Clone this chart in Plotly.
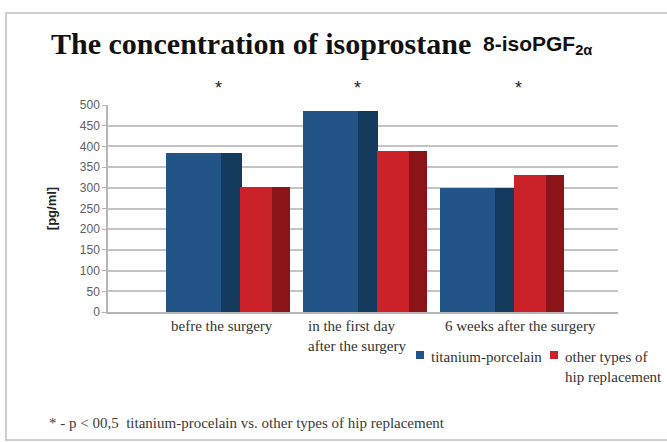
import plotly.graph_objects as go

categories = ["befre the surgery", "in the first day<br>after the surgery", "6 weeks after the surgery"]
titanium = [385, 485, 300]
other = [302, 388, 332]
series_names = ["titanium-porcelain", "other types of<br>hip replacement"]
y_ticks = [0, 50, 100, 150, 200, 250, 300, 350, 400, 450, 500]
star_offsets = [-10, -7, 17]

W, H = 667, 442
L, R, T, B = 108, 618, 105, 312


def px(xp):
    return (xp - L) / (R - L)


def py(yp):
    return (B - yp) / (B - T)


n = len(categories)
xs = list(range(n))
BLUE, BLUE_D = "#235488", "#143a5e"
RED, RED_D = "#cb2129", "#8b1418"

fig = go.Figure()
# blue face + side (side overlaid on face to avoid seams)
fig.add_bar(x=xs, y=titanium, width=[0.5412] * n, offset=[-0.4534] * n,
            marker=dict(color=BLUE, line=dict(width=0)), name=series_names[0], showlegend=False)
fig.add_bar(x=xs, y=titanium, width=[0.15] * n, offset=[-0.0512] * n,
            marker=dict(color=BLUE_D, line=dict(width=0)), showlegend=False)
fig.add_bar(x=xs, y=other, width=[0.3656] * n, offset=[0.0878] * n,
            marker=dict(color=RED, line=dict(width=0)), name=series_names[1], showlegend=False)
fig.add_bar(x=xs, y=other, width=[0.132] * n, offset=[0.3218] * n,
            marker=dict(color=RED_D, line=dict(width=0)), showlegend=False)

ann = []
# title
ann.append(dict(x=px(49), y=py(62), xref="paper", yref="paper", xanchor="left", yanchor="bottom",
                text="<b>The concentration of isoprostane</b>", showarrow=False,
                font=dict(family="Liberation Serif", size=30, color="#111")))
ann.append(dict(x=px(481), y=py(60), xref="paper", yref="paper", xanchor="left", yanchor="bottom",
                text="<b>8-isoPGF</b><sub><b>2α</b></sub>", showarrow=False,
                font=dict(family="Liberation Sans", size=21, color="#111")))
# asterisks
for i, off in enumerate(star_offsets):
    ann.append(dict(x=i, y=py(88), xref="x", yref="paper", xshift=off, text="*", showarrow=False,
                    font=dict(family="Liberation Sans", size=18, color="#222"), yanchor="middle"))
# category labels
for i, c in enumerate(categories):
    ann.append(dict(x=i, y=py(316), xref="x", yref="paper", xanchor="left", yanchor="top", align="left",
                    xshift=-59, text=c, showarrow=False,
                    font=dict(family="Liberation Serif", size=15, color="#333")))
# legend (manual)
legend_x = [416, 550]
legend_colors = [BLUE, RED]
shapes = []
for lx, col, name in zip(legend_x, legend_colors, series_names):
    shapes.append(dict(type="rect", xref="paper", yref="paper", x0=px(lx), x1=px(lx + 8),
                       y0=py(359), y1=py(351), fillcolor=col, line=dict(width=0)))
    ann.append(dict(x=px(lx + 13), y=py(347), xref="paper", yref="paper", xanchor="left", yanchor="top",
                    align="left", text=name, showarrow=False,
                    font=dict(family="Liberation Serif", size=15, color="#333")))
# footnote
ann.append(dict(x=px(47), y=py(423), xref="paper", yref="paper", xanchor="left", yanchor="middle",
                text="* - p < 00,5  titanium-procelain vs. other types of hip replacement", showarrow=False,
                font=dict(family="Liberation Serif", size=15, color="#3a3a3a")))

shapes.append(dict(type="rect", xref="paper", yref="paper", x0=px(6), x1=px(672), y0=py(440), y1=py(13),
                   line=dict(color="#cfcfcf", width=2), layer="below"))

fig.update_layout(
    width=W, height=H,
    margin=dict(l=L, r=W - R, t=T, b=H - B, pad=0),
    paper_bgcolor="white", plot_bgcolor="white",
    barmode="overlay", bargap=0,
    showlegend=False,
    xaxis=dict(range=[-0.878, 2.852], showticklabels=False, showgrid=False, zeroline=False,
               showline=True, linecolor="#b5b5b5", linewidth=1.5, ticks="", fixedrange=True),
    yaxis=dict(range=[0, 500], tickvals=y_ticks, showgrid=True, gridcolor="#c4c4c4", gridwidth=1.8,
               zeroline=False, showline=True, linecolor="#b5b5b5", linewidth=1.5,
               ticks="outside", ticklen=4, tickcolor="#b5b5b5",
               tickfont=dict(family="Liberation Sans", size=12, color="#606060"),
               title=dict(text="<b>[pg/ml]</b>", standoff=20,
                          font=dict(family="Liberation Sans", size=13, color="#222"))),
    annotations=ann,
    shapes=shapes,
)

fig.write_html("out.html", config={"displayModeBar": False},
               post_script="document.body.style.margin='0';document.body.style.overflow='hidden';")
